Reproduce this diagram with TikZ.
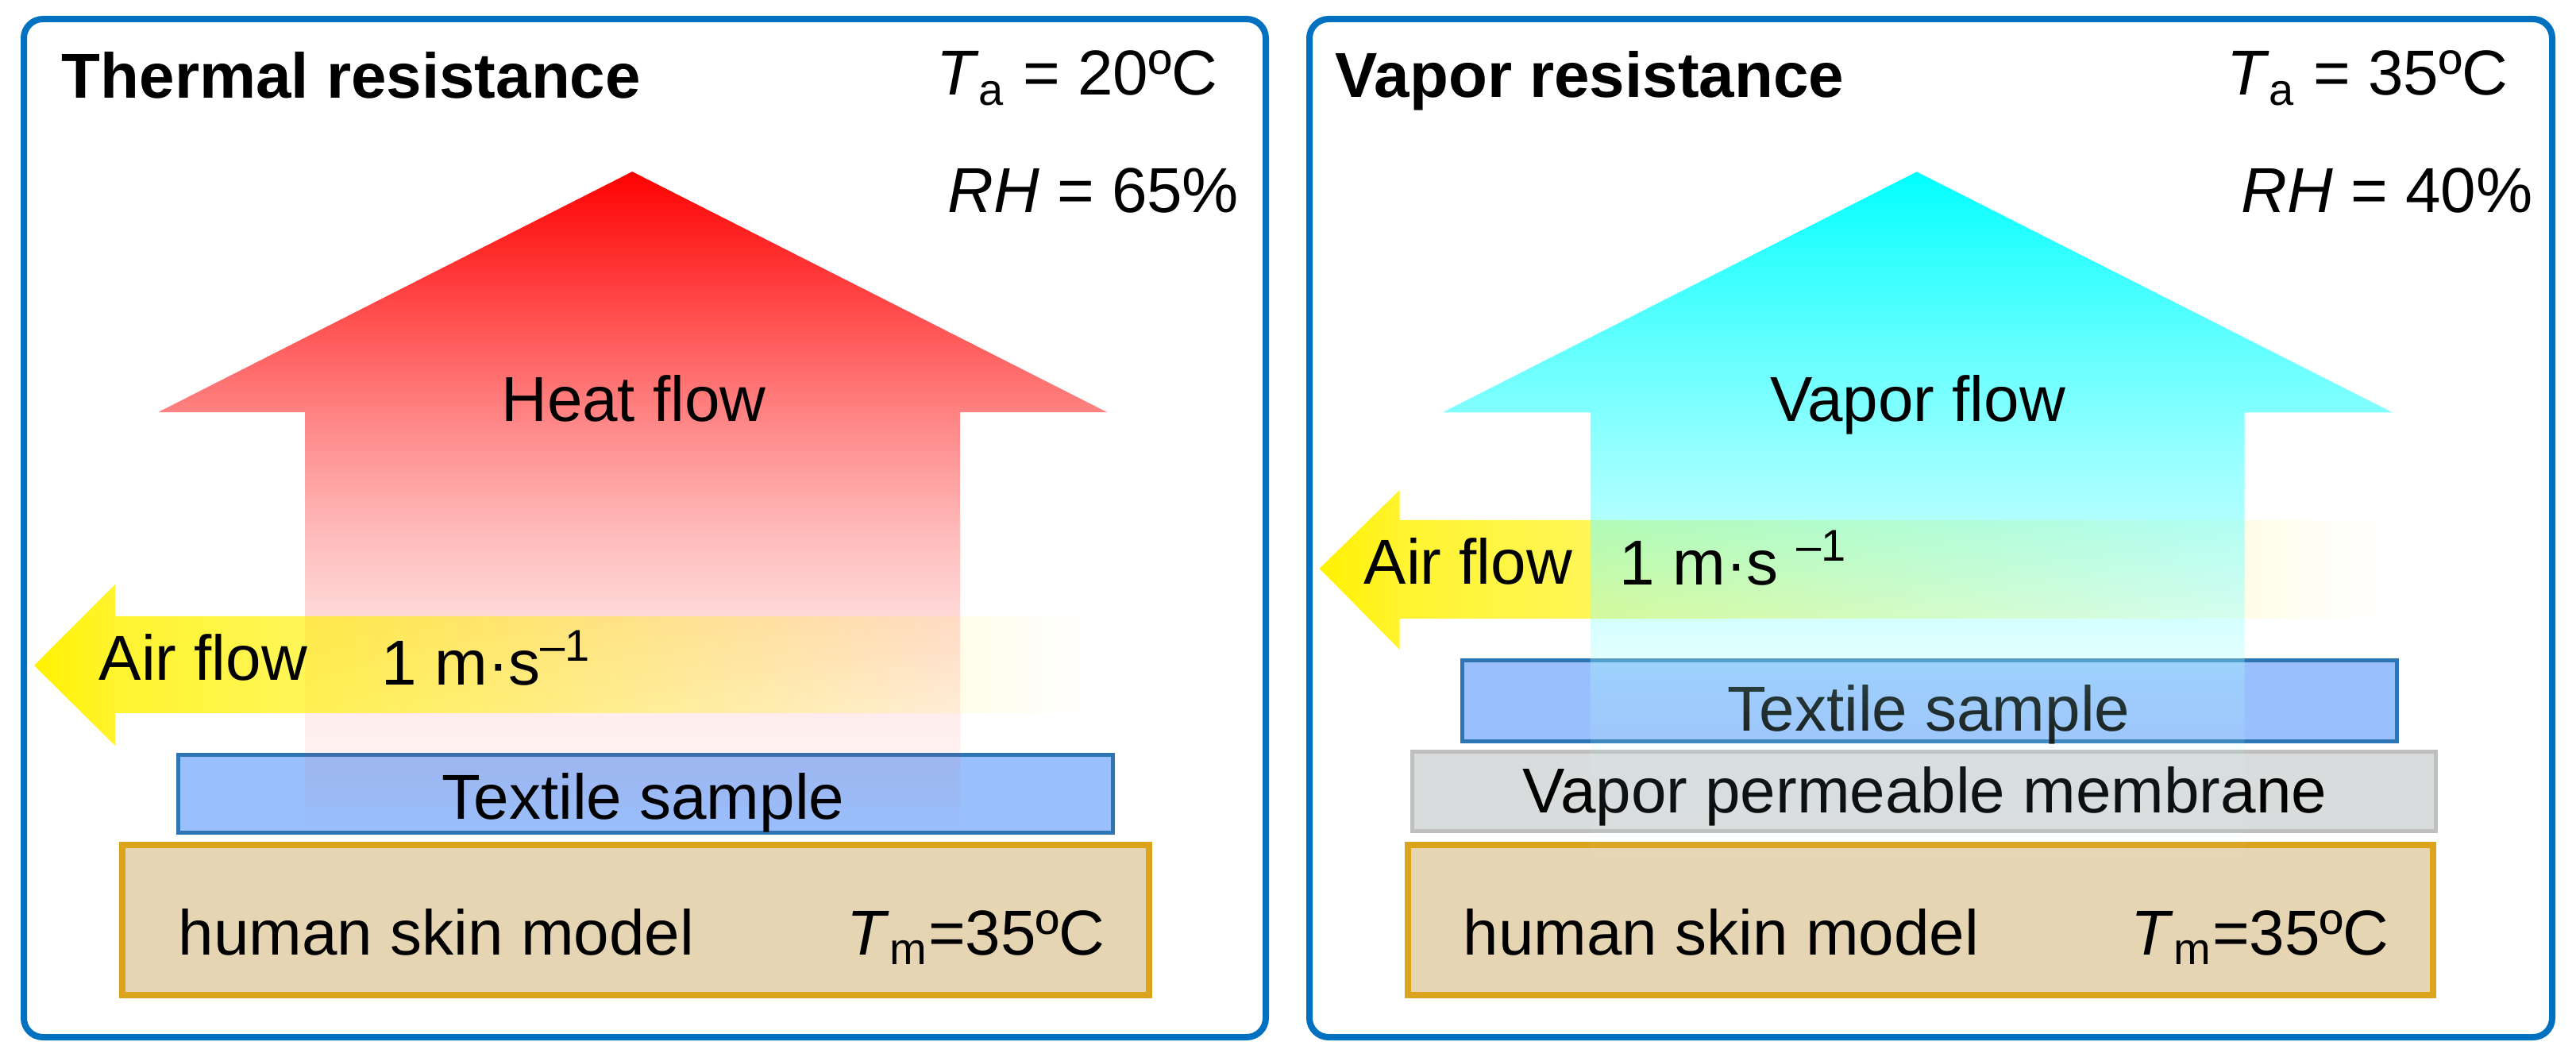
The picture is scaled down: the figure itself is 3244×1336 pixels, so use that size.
\documentclass[tikz,border=0pt]{standalone}
\usepackage{fontspec}
\setmainfont{Liberation Sans}
\usetikzlibrary{fadings}
\definecolor{framec}{RGB}{0,112,192}
\definecolor{texfill}{RGB}{153,191,252}
\definecolor{texline}{RGB}{46,117,182}
\definecolor{skinfill}{RGB}{230,213,178}
\definecolor{skinline}{RGB}{220,164,28}
\definecolor{memfill}{RGB}{217,220,220}
\definecolor{memline}{RGB}{191,191,191}
\pgfdeclareverticalshading{heatshade}{100bp}{color(0bp)=(pgftransparent!100); color(25bp)=(pgftransparent!100); color(31bp)=(pgftransparent!95); color(34bp)=(pgftransparent!93); color(41.5bp)=(pgftransparent!85); color(47.8bp)=(pgftransparent!73); color(56.85bp)=(pgftransparent!51); color(75bp)=(pgftransparent!0); color(100bp)=(pgftransparent!0)}
\pgfdeclarefading{heatfade}{\pgfuseshading{heatshade}}
\pgfdeclareverticalshading{vaporshade}{100bp}{color(0bp)=(pgftransparent!100); color(25bp)=(pgftransparent!100); color(30.5bp)=(pgftransparent!96); color(35.7bp)=(pgftransparent!90); color(40bp)=(pgftransparent!78); color(43.75bp)=(pgftransparent!62); color(48bp)=(pgftransparent!50); color(59bp)=(pgftransparent!27); color(75bp)=(pgftransparent!0); color(100bp)=(pgftransparent!0)}
\pgfdeclarefading{vaporfade}{\pgfuseshading{vaporshade}}
\pgfdeclarehorizontalshading{airshade}{100bp}{color(0bp)=(pgftransparent!0); color(25bp)=(pgftransparent!0); color(28.85bp)=(pgftransparent!18); color(70.5bp)=(pgftransparent!94); color(75bp)=(pgftransparent!100); color(100bp)=(pgftransparent!100)}
\pgfdeclarefading{airfade}{\pgfuseshading{airshade}}
\begin{document}
\begin{tikzpicture}[x=0.25bp,y=-0.25bp,
  txt/.style={inner sep=0pt, font=\fontsize{20bp}{24bp}\selectfont},
  boldtxt/.style={inner sep=0pt, font=\fontsize{20bp}{24bp}\selectfont\bfseries},
  frame/.style={draw=framec, line width=2bp, rounded corners=6bp},
  tbox/.style={draw=texline, fill=texfill, line width=1.25bp, inner sep=0pt},
  skinbox/.style={draw=skinline, fill=skinfill, line width=2bp, inner sep=0pt},
  membox/.style={draw=memline, fill=memfill, line width=1.25bp, inner sep=0pt}]
\fill[white] (0,0) rectangle (3244,1336);
\useasboundingbox (0,0) rectangle (3244,1336);
% ---------- left panel ----------
\draw[frame] (30,24) rectangle (1594,1306);
\node[tbox, minimum width=294.25bp, minimum height=24.5bp] (tex1) at (813,999.5) {};
\node[skinbox, minimum width=323.25bp, minimum height=47.25bp] (skin1) at (800.5,1158.5) {};
\fill[red, path fading=heatfade] (796,216) -- (1394,519) -- (1209,519) -- (1209,1050) -- (384,1050) -- (384,519) -- (199,519) -- cycle;
\fill[yellow, path fading=airfade] (43,838) -- (145,736) -- (145,776) -- (1370,776) -- (1370,898) -- (145,898) -- (145,939) -- cycle;
\node[boldtxt, anchor=base west] (t1) at (77,124) {Thermal resistance};
\node[txt, anchor=base east] (ta1) at (1534,120) {\textit{T}\textsubscript{a} = 20ºC};
\node[txt, anchor=base east] (rh1) at (1561,268) {\textit{RH} = 65\%};
\node[txt, anchor=base] (hf) at (798,530) {Heat flow};
\node[txt, anchor=base west] (af1) at (124,856) {Air flow};
\node[txt, anchor=base west] (sp1) at (480,862) {1 m·s\textsuperscript{–1}};
\node[txt, anchor=base] (tx1l) at (810,1031) {Textile sample};
\node[txt, anchor=base west] (sk1) at (224,1202) {human skin model};
\node[txt, anchor=base west] (tm1) at (1066,1202) {\textit{T}\textsubscript{m}=35ºC};
% ---------- right panel ----------
\draw[frame] (1649,24) rectangle (3214,1306);
\node[tbox, minimum width=294.25bp, minimum height=25.5bp] (tex2) at (2430,882.5) {};
\node[txt, anchor=base] (tx2l) at (2429,920) {Textile sample};
\node[membox, minimum width=322.25bp, minimum height=25bp] (mem) at (2423,996.5) {};
\node[txt, anchor=base] (meml) at (2424,1023) {Vapor permeable membrane};
\node[skinbox, minimum width=322.75bp, minimum height=47.25bp] (skin2) at (2418.5,1158.5) {};
\fill[yellow, path fading=airfade] (1662,716) -- (1763,617) -- (1763,655) -- (3000,655) -- (3000,779) -- (1763,779) -- (1763,818) -- cycle;
\shade[top color=cyan, bottom color=white, path fading=vaporfade] (2414,216) -- (3013,519) -- (2827,519) -- (2827,1150) -- (2003,1150) -- (2003,519) -- (1817,519) -- cycle;
\node[boldtxt, anchor=base west] (t2) at (1681,123) {Vapor resistance};
\node[txt, anchor=base east] (ta2) at (3159,120) {\textit{T}\textsubscript{a} = 35ºC};
\node[txt, anchor=base east] (rh2) at (3190,268) {\textit{RH} = 40\%};
\node[txt, anchor=base] (vf) at (2415,530) {Vapor flow};
\node[txt, anchor=base west] (af2) at (1717,735) {Air flow};
\node[txt, anchor=base west] (sp2) at (2039,736) {1 m·s \textsuperscript{–1}};
\node[txt, anchor=base west] (sk2) at (1842,1202) {human skin model};
\node[txt, anchor=base west] (tm2) at (2683,1202) {\textit{T}\textsubscript{m}=35ºC};
\end{tikzpicture}
\end{document}
